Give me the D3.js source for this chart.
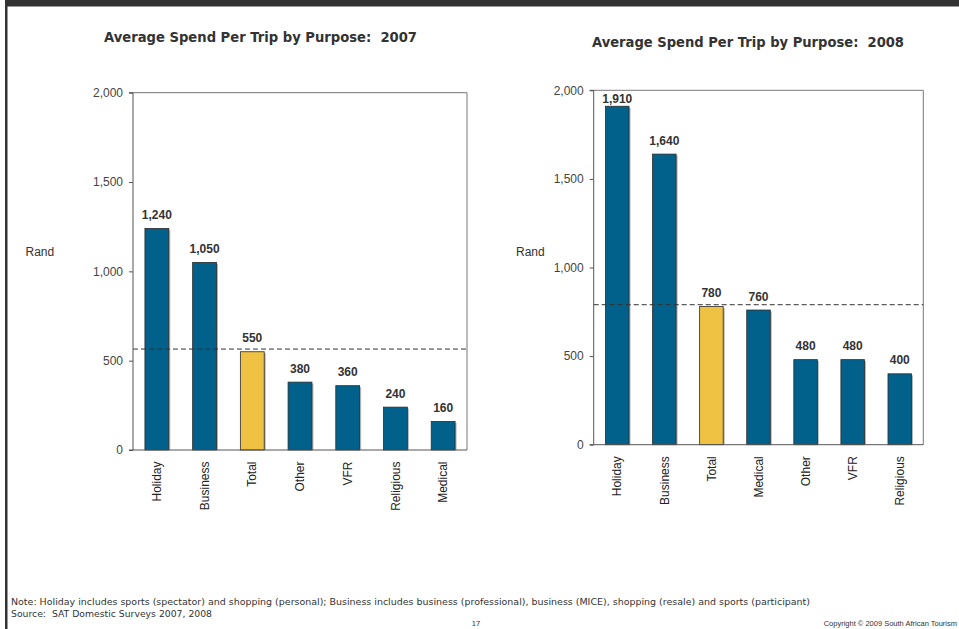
<!DOCTYPE html>
<html>
<head>
<meta charset="utf-8">
<script src="https://cdn.jsdelivr.net/npm/d3@7/dist/d3.min.js"></script>
<style>
  html, body { margin: 0; padding: 0; background: #fff; }
  svg { display: block; }
  text.pre { white-space: pre; }
</style>
</head>
<body>
<svg id="page" width="959" height="629"></svg>
<script>
// Average spend per trip (Rand) by purpose of trip
const cats2007 = ["Holiday", "Business", "Total", "Other", "VFR", "Religious", "Medical"];
const vals2007 = [1240, 1050, 550, 380, 360, 240, 160];
const avg2007 = 565;

const cats2008 = ["Holiday", "Business", "Total", "Medical", "Other", "VFR", "Religious"];
const vals2008 = [1910, 1640, 780, 760, 480, 480, 400];
const avg2008 = 790;

const yTicks = [0, 500, 1000, 1500, 2000];
const highlightCat = "Total";

const titles = ["Average Spend Per Trip by Purpose:  2007", "Average Spend Per Trip by Purpose:  2008"];
const yLabel = "Rand";
const noteText = "Note: Holiday includes sports (spectator) and shopping (personal); Business includes business (professional), business (MICE), shopping (resale) and sports (participant)";
const sourceText = "Source:  SAT Domestic Surveys 2007, 2008";
const pageNo = "17";
const copyright = "Copyright \u00A9 2009 South African Tourism";

const svg = d3.select("#page");
const BLUE = "#02618b", GOLD = "#efc244", INK = "#333";

// slide frame
svg.append("rect").attr("x", 5).attr("y", 0).attr("width", 954).attr("height", 6.5).attr("fill", "#323232");
svg.append("rect").attr("x", 5).attr("y", 0).attr("width", 2.5).attr("height", 629).attr("fill", "#323232");

function drawChart(cfg) {
  const { cats, vals, avg, left, right, top, bottom, title, titleX, titleY, titleW, randX } = cfg;
  const g = svg.append("g");

  const x = d3.scaleBand().domain(cats).range([left, right]).paddingInner(0.5).paddingOuter(0.25);
  const y = d3.scaleLinear().domain([0, 2000]).range([bottom, top]);

  // title
  g.append("text").attr("class", "pre").attr("x", titleX).attr("y", titleY)
    .attr("font-family", "'DejaVu Sans', Verdana, sans-serif").attr("font-weight", "bold")
    .attr("font-size", 13.5).attr("fill", INK)
    .attr("textLength", titleW).attr("lengthAdjust", "spacingAndGlyphs")
    .text(title);

  // plot frame (top and right)
  g.append("path")
    .attr("d", `M${left},${top}H${right}V${bottom}`)
    .attr("fill", "none").attr("stroke", "#777").attr("stroke-width", 1);

  // bar shadows
  g.selectAll("rect.sh").data(cats).join("rect").attr("class", "sh")
    .attr("x", d => x(d) + 1.5).attr("y", (d, i) => y(vals[i]) + 1.5)
    .attr("width", x.bandwidth()).attr("height", (d, i) => bottom - y(vals[i]) - 1.5)
    .attr("fill", "#b5b5b5");

  // bars
  g.selectAll("rect.bar").data(cats).join("rect").attr("class", "bar")
    .attr("x", d => x(d)).attr("y", (d, i) => y(vals[i]))
    .attr("width", x.bandwidth()).attr("height", (d, i) => bottom - y(vals[i]))
    .attr("fill", d => d === highlightCat ? GOLD : BLUE)
    .attr("stroke", "#2b2b2b").attr("stroke-width", 0.8);

  // value labels
  g.selectAll("text.val").data(cats).join("text").attr("class", "val")
    .attr("x", d => x(d) + x.bandwidth() / 2)
    .attr("y", (d, i) => Math.max(y(vals[i]) - 9.5, top + 12.5))
    .attr("text-anchor", "middle")
    .attr("font-family", "Arial, 'Liberation Sans', sans-serif").attr("font-weight", "bold")
    .attr("font-size", 12).attr("fill", INK)
    .text((d, i) => d3.format(",")(vals[i]));

  // average reference line
  g.append("line").attr("x1", left).attr("x2", right).attr("y1", y(avg)).attr("y2", y(avg))
    .attr("stroke", "#333").attr("stroke-width", 1).attr("stroke-dasharray", "5,3");

  // y axis
  const ya = d3.axisLeft(y).tickValues(yTicks).tickFormat(d3.format(",")).tickSize(4).tickPadding(6);
  const yg = g.append("g").attr("transform", `translate(${left},0)`).call(ya);
  yg.select(".domain").attr("stroke", "#555").attr("d", `M-4,${top}H0V${bottom}H-4`);
  yg.selectAll(".tick line").attr("stroke", "#555");
  yg.selectAll(".tick text").attr("font-family", "Arial, 'Liberation Sans', sans-serif")
    .attr("font-size", 12).attr("fill", "#444");

  // x axis
  const xa = d3.axisBottom(x).tickSize(0).tickPadding(0);
  const xg = g.append("g").attr("transform", `translate(0,${bottom})`).call(xa);
  xg.select(".domain").attr("stroke", "#555").attr("d", `M${left},0H${right}`);
  xg.selectAll(".tick text")
    .attr("transform", "rotate(-90)")
    .attr("x", -11.5).attr("y", 0).attr("dy", "0.35em")
    .attr("text-anchor", "end")
    .attr("font-family", "Arial, 'Liberation Sans', sans-serif")
    .attr("font-size", 12).attr("fill", "#222");

  // y label
  g.append("text").attr("x", randX).attr("y", 256)
    .attr("font-family", "Arial, 'Liberation Sans', sans-serif")
    .attr("font-size", 12).attr("fill", INK).text(yLabel);
}

drawChart({ cats: cats2007, vals: vals2007, avg: avg2007,
  left: 133, right: 467, top: 92.7, bottom: 450,
  title: titles[0], titleX: 104, titleY: 42.3, titleW: 313, randX: 25.5 });

drawChart({ cats: cats2008, vals: vals2008, avg: avg2008,
  left: 593.7, right: 923.3, top: 90.3, bottom: 444.7,
  title: titles[1], titleX: 592, titleY: 46.7, titleW: 312, randX: 516 });

// footer
const foot = svg.append("g").attr("fill", INK);
foot.append("text").attr("x", 11).attr("y", 605)
  .attr("font-family", "'DejaVu Sans', Verdana, sans-serif").attr("font-size", 9)
  .attr("textLength", 799).attr("lengthAdjust", "spacingAndGlyphs").text(noteText);
foot.append("text").attr("class", "pre").attr("x", 11).attr("y", 617)
  .attr("font-family", "'DejaVu Sans', Verdana, sans-serif").attr("font-size", 9)
  .attr("textLength", 201).attr("lengthAdjust", "spacingAndGlyphs").text(sourceText);
foot.append("text").attr("x", 476).attr("y", 625.5).attr("text-anchor", "middle")
  .attr("font-family", "Arial, 'Liberation Sans', sans-serif").attr("font-size", 7.5).text(pageNo);
foot.append("text").attr("x", 957).attr("y", 625.5).attr("text-anchor", "end")
  .attr("font-family", "Arial, 'Liberation Sans', sans-serif").attr("font-size", 7.5).text(copyright);
</script>
</body>
</html>
